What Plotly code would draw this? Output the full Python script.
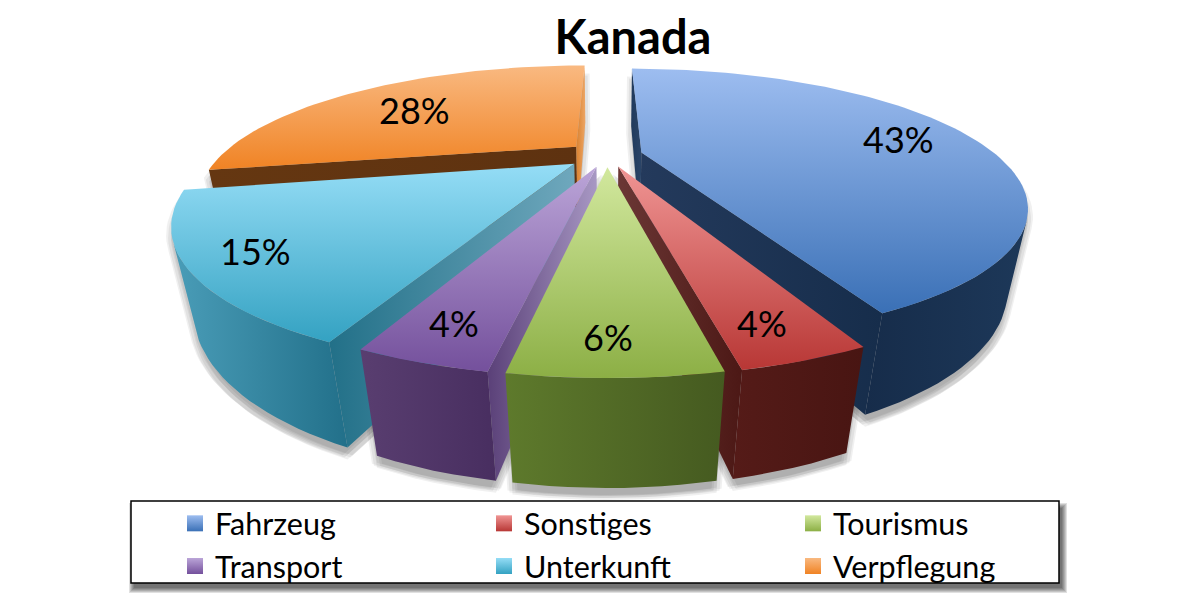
import numpy as np
import plotly.graph_objects as go

# ---- data ----
categories = ["Fahrzeug", "Sonstiges", "Tourismus", "Transport", "Unterkunft", "Verpflegung"]
values = [43.2, 3.7, 5.8, 3.8, 15.4, 28.1]
explode = [0.10, 0.10, 0.10, 0.10, 0.115, 0.115]
percent_labels = ["43%", "4%", "6%", "4%", "15%", "28%"]
label_x = [898, 762, 608, 454, 255, 414]
label_y = [139, 323, 337, 323, 251, 110]

# ---- styles ----
top_colors = [("#9DBDF0", "#3A70B6"), ("#F09594", "#B83735"), ("#D2E89E", "#8CAF45"),
              ("#BBA5D8", "#74509C"), ("#95DDF6", "#34A2C2"), ("#F9B981", "#F08324")]
wall_colors = [("#162C4A", "#1D3859"), ("#551B18", "#481512"), ("#5E7A2C", "#455A20"),
               ("#593E70", "#482E60"), ("#4A9DB8", "#22708A"), ("#6A3A12", "#5E3210")]
side0_colors = [("#203A5C", "#2B4568"), ("#5A2522", "#4F1A17"), ("#5F7A2C", "#8FA860"),
                ("#5A4078", "#A898C4"), ("#227088", "#6FA8BD"), ("#653711", "#5E3210")]
side1_colors = [("#243A5C", "#162D4B"), ("#6B3735", "#4C1815"), ("#8FA860", "#5F7A2C"),
                ("#A898C4", "#5F4680"), ("#6FA8BD", "#227088"), ("#D9812F", "#EDA666")]
draw_order = [5, 0, 4, 3, 1, 2]

# ---- projection of the tilted pie onto the page ----
CX, CY, A, B, C, K, M = 607.0, 155.0, 355.0, 117.6, 78.4, 0.382, 0.044


def project(X, Y, Z):
    w = 1 - K * Y + M * Z
    return CX + A * X / w, CY + (B * Y + C * Z) / w


def area(pts):
    x = np.array([p[0] for p in pts])
    y = np.array([p[1] for p in pts])
    return 0.5 * np.sum(x * np.roll(y, -1) - np.roll(x, -1) * y)


def hull(pts):
    pts = sorted(set((round(a, 2), round(b, 2)) for a, b in pts))

    def half(seq):
        out = []
        for p in seq:
            while len(out) > 1 and ((out[-1][0] - out[-2][0]) * (p[1] - out[-2][1])
                                    - (out[-1][1] - out[-2][1]) * (p[0] - out[-2][0])) <= 0:
                out.pop()
            out.append(p)
        return out[:-1]
    return half(pts) + half(pts[::-1])


def vgrad(top, bottom):
    # scale position 0 sits at the lowest axis value; the axis runs downward on the page
    return dict(type="vertical", colorscale=[[0, bottom], [1, top]])


def hgrad(left, right):
    return dict(type="horizontal", colorscale=[[0, left], [1, right]])


def face(pts, gradient):
    xs = [p[0] for p in pts] + [pts[0][0]]
    ys = [p[1] for p in pts] + [pts[0][1]]
    return go.Scatter(x=xs, y=ys, mode="lines", fill="toself", line=dict(width=0),
                      fillgradient=gradient, hoverinfo="skip", showlegend=False)


fractions = np.array(values) / sum(values)
ends = np.cumsum(fractions) * 2 * np.pi
starts = ends - fractions * 2 * np.pi

shapes_by_slice = {}
for i in range(len(values)):
    t0, t1 = starts[i], ends[i]
    mid = (t0 + t1) / 2
    ox, oy = explode[i] * np.sin(mid), -explode[i] * np.cos(mid)
    n = max(6, int((t1 - t0) / 0.03))
    th = np.linspace(t0, t1, n)
    arc = [(ox + np.sin(t), oy - np.cos(t)) for t in th]
    top_arc = [project(a, b, 0) for a, b in arc]
    bot_arc = [project(a, b, 1) for a, b in arc]
    apex_t = project(ox, oy, 0)
    apex_b = project(ox, oy, 1)
    shapes_by_slice[i] = dict(top=[apex_t] + top_arc, top_arc=top_arc, bot_arc=bot_arc,
                              apex_t=apex_t, apex_b=apex_b)

s0 = shapes_by_slice[2]
mid_j = len(s0["top_arc"]) // 2
front_sign = np.sign(area([s0["top_arc"][mid_j], s0["top_arc"][mid_j + 1],
                           s0["bot_arc"][mid_j + 1], s0["bot_arc"][mid_j]]))

fig = go.Figure()

# soft ground shadow
for i in draw_order:
    s = shapes_by_slice[i]
    h = hull(s["top"] + s["bot_arc"] + [s["apex_b"]])
    for dx, dy in [(-5, 8), (5, 8), (0, 12), (-3, 10), (3, 10), (0, 7)]:
        fig.add_trace(go.Scatter(x=[p[0] + dx for p in h] + [h[0][0] + dx],
                                 y=[p[1] + dy for p in h] + [h[0][1] + dy],
                                 mode="lines", fill="toself", line=dict(width=0),
                                 fillcolor="rgba(0,0,0,0.06)", hoverinfo="skip", showlegend=False))

for i in draw_order:
    s = shapes_by_slice[i]
    ta, ba = s["top_arc"], s["bot_arc"]
    q0 = [s["apex_t"], ta[0], ba[0], s["apex_b"]]
    q1 = [ta[-1], s["apex_t"], s["apex_b"], ba[-1]]
    if np.sign(area(q0)) == front_sign:
        fig.add_trace(face(q0, hgrad(*side0_colors[i])))
    if np.sign(area(q1)) == front_sign:
        fig.add_trace(face(q1, hgrad(*side1_colors[i])))
    vis = [j for j in range(len(ta) - 1)
           if np.sign(area([ta[j], ta[j + 1], ba[j + 1], ba[j]])) == front_sign]
    if vis:
        idx = list(range(vis[0], vis[-1] + 2))
        pts = [ta[j] for j in idx] + [ba[j] for j in idx[::-1]]
        fig.add_trace(face(pts, hgrad(*wall_colors[i])))
    fig.add_trace(face(s["top"], vgrad(*top_colors[i])))

# legend entries
for i, name in enumerate(categories):
    fig.add_trace(go.Scatter(
        x=[None], y=[None], mode="markers", name=name, legendrank=i + 1,
        marker=dict(symbol="square", size=18, color=top_colors[i][0], line=dict(width=0),
                    gradient=dict(type="vertical", color=top_colors[i][1]))))

annotations = [dict(x=x, y=y, text=t, showarrow=False, xref="x", yref="y",
                    font=dict(family="Lato", size=36, color="#000000"))
               for x, y, t in zip(label_x, label_y, percent_labels)]

box_shadow = [dict(type="rect", layer="below", x0=131 + d, x1=1059 + 6 - d, y0=505 + d, y1=583 + 8 - d,
                   line=dict(width=0), fillcolor="rgba(0,0,0,0.12)") for d in (-2, -1, 0, 1, 2, 3)]
box = dict(type="rect", layer="below", x0=131, x1=1059, y0=501, y1=583,
           line=dict(color="#000000", width=1.5), fillcolor="#FFFFFF")

fig.update_layout(
    width=1200, height=609, margin=dict(l=0, r=0, t=0, b=0, autoexpand=False),
    paper_bgcolor="#FFFFFF", plot_bgcolor="rgba(0,0,0,0)",
    title=dict(text="Kanada", x=633 / 1200, y=1 - 38 / 609, xanchor="center", yanchor="middle",
               xref="paper", yref="container",
               font=dict(family="Lato", size=47, color="#000000", weight=700)),
    xaxis=dict(range=[0, 1200], visible=False, fixedrange=True),
    yaxis=dict(range=[609, 0], visible=False, fixedrange=True),
    shapes=box_shadow + [box],
    annotations=annotations,
    legend=dict(orientation="h", x=175 / 1200, y=1 - 497 / 609, xanchor="left", yanchor="top",
                entrywidth=264, entrywidthmode="pixels", itemwidth=30,
                bgcolor="rgba(0,0,0,0)", font=dict(family="Lato", size=30.5, color="#000000"),
                traceorder="normal", itemclick=False, itemdoubleclick=False),
)

fig.write_html("out.html", config=dict(displayModeBar=False),
               post_script="document.body.style.margin='0';")
